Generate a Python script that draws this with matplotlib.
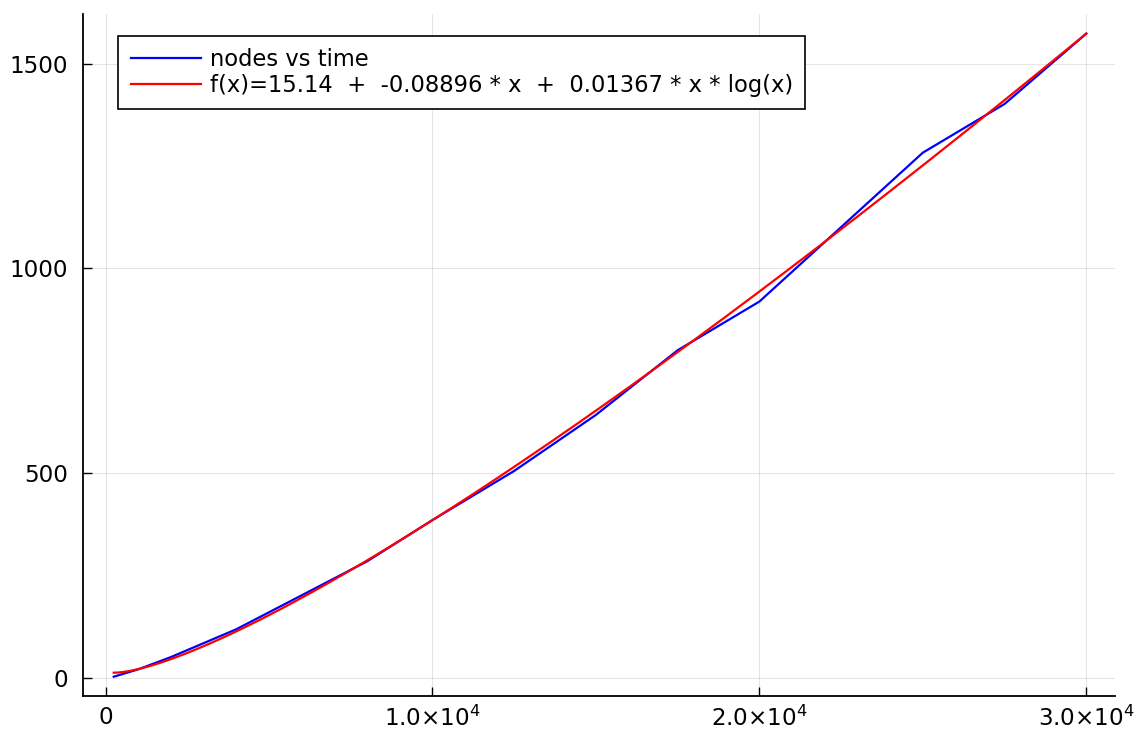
import numpy as np
import matplotlib
matplotlib.use("Agg")
import matplotlib.pyplot as plt
from matplotlib.ticker import FixedLocator, FixedFormatter

nodes = [250, 1000, 2000, 4000, 8000, 10000, 12500, 15000, 17500, 20000, 22500, 25000, 27500, 30000]
times = [2, 20, 50, 118, 284, 385, 505, 642, 800, 919, 1101, 1283, 1402, 1574]

# fitted model coefficients, as printed in the legend
fit_a = 15.14
fit_b = -0.08896
fit_c = 0.01367

x_ticks = [0, 10000, 20000, 30000]
x_tick_labels = ["0", r"$1.0{\times}10^{4}$", r"$2.0{\times}10^{4}$", r"$3.0{\times}10^{4}$"]
y_ticks = [0, 500, 1000, 1500]
y_tick_labels = ["0", "500", "1000", "1500"]

plt.rcParams["font.family"] = ["DejaVu Sans"]
plt.rcParams["mathtext.fontset"] = "dejavusans"
plt.rcParams["mathtext.default"] = "regular"

fig = plt.figure(figsize=(11.37, 7.38), dpi=100)
ax = fig.add_axes([0.073, 0.057, 0.9077, 0.9235])

# the fit is a function, plotted on a fine grid like the original
xs = np.linspace(min(nodes), max(nodes), 400)
fit_vals = fit_a + fit_b * xs + fit_c * xs * np.log(xs)

ax.plot(nodes, times, color="blue", lw=1.6, label="nodes vs time")
ax.plot(xs, fit_vals, color="red", lw=1.6,
        label="f(x)=15.14  +  -0.08896 * x  +  0.01367 * x * log(x)")

ax.set_xlim(-690, 30880)
ax.set_ylim(-45, 1621)

ax.xaxis.set_major_locator(FixedLocator(x_ticks))
ax.xaxis.set_major_formatter(FixedFormatter(x_tick_labels))
ax.yaxis.set_major_locator(FixedLocator(y_ticks))
ax.yaxis.set_major_formatter(FixedFormatter(y_tick_labels))

ax.grid(True, color="black", alpha=0.1, lw=0.8)
ax.set_axisbelow(True)
for side in ["top", "right"]:
    ax.spines[side].set_visible(False)
for side in ["left", "bottom"]:
    ax.spines[side].set_linewidth(1.3)

ax.tick_params(axis="both", direction="in", length=6.5, width=1, labelsize=16.6)
ax.tick_params(axis="x", pad=7)
ax.tick_params(axis="y", pad=11)

leg = ax.legend(loc="upper left", bbox_to_anchor=(0.034, 0.9685), borderaxespad=0,
                fontsize=16.3, frameon=True, fancybox=False, framealpha=1,
                edgecolor="black", handlelength=3.1, handletextpad=0.4,
                labelspacing=0.12, borderpad=0.55)
leg.get_frame().set_linewidth(1.2)

fig.savefig("out.png", dpi=100)
